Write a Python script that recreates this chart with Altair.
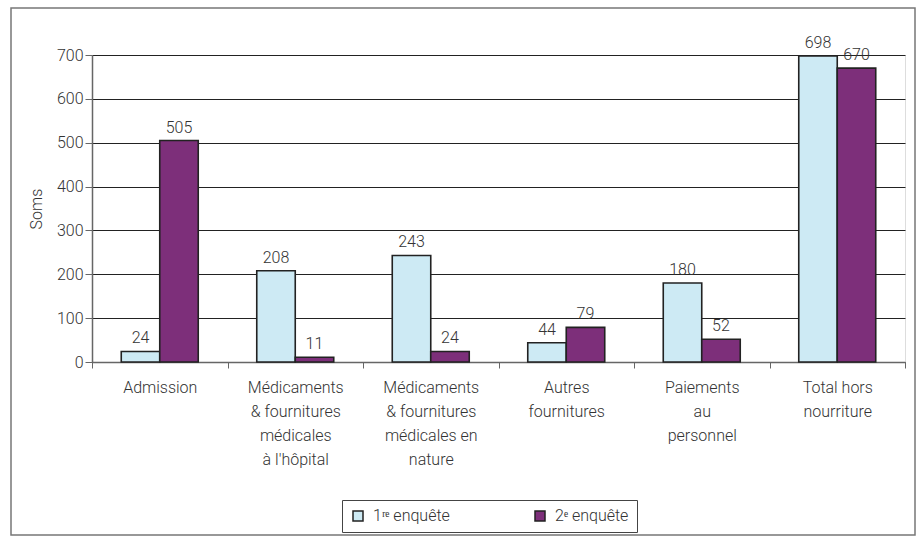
import altair as alt
import pandas as pd

categories = [
    "Admission",
    "Médicaments|& fournitures|médicales|à l'hôpital",
    "Médicaments|& fournitures|médicales en|nature",
    "Autres|fournitures",
    "Paiements|au|personnel",
    "Total hors|nourriture",
]
series = ["1ʳᵉ enquête", "2ᵉ enquête"]
survey1 = [24, 208, 243, 44, 180, 698]
survey2 = [505, 11, 24, 79, 52, 670]
y_ticks = [0, 100, 200, 300, 400, 500, 600, 700]

rows = []
for c, a, b in zip(categories, survey1, survey2):
    rows.append({"categorie": c, "serie": series[0], "valeur": a})
    rows.append({"categorie": c, "serie": series[1], "valeur": b})
df = pd.DataFrame(rows)

FONT = "Roboto"
FW = 300
TXT = "#333333"

x_enc = alt.X(
    "categorie:N",
    sort=categories,
    scale=alt.Scale(paddingInner=0, paddingOuter=0),
    axis=alt.Axis(
        title=None,
        labelAngle=0,
        labelExpr="split(datum.label, '|')",
        tickBand="extent",
        labelFontSize=16,
        labelFontWeight=FW,
        labelLineHeight=24,
        labelPadding=11,
        labelColor=TXT,
        labelFont=FONT,
        domainColor="#666666",
        tickColor="#666666",
        tickSize=6,
        domainWidth=1.5,
        labelLimit=200,
    ),
)
xo_enc = alt.XOffset(
    "serie:N", sort=series, scale=alt.Scale(paddingInner=0, paddingOuter=0.76)
)
y_enc = alt.Y(
    "valeur:Q",
    scale=alt.Scale(domain=[0, 700], nice=False),
    axis=alt.Axis(
        title="Soms",
        values=y_ticks,
        grid=True,
        gridColor="#222222",
        gridWidth=1,
        domainColor="#666666",
        domainWidth=1.5,
        tickColor="#666666",
        tickSize=7,
        labelFontSize=16,
        labelFontWeight=FW,
        labelColor=TXT,
        labelFont=FONT,
        labelPadding=2,
        titleFont=FONT,
        titleFontSize=16,
        titleFontWeight=FW,
        titleColor=TXT,
        titlePadding=12,
    ),
)

base = alt.Chart(df).encode(x=x_enc, xOffset=xo_enc)

bars = base.mark_bar(stroke="#222222", strokeWidth=1.6).encode(
    y=y_enc,
    color=alt.Color(
        "serie:N",
        sort=series,
        scale=alt.Scale(domain=series, range=["#CDEAF4", "#7D2F7A"]),
        legend=alt.Legend(
            title=None,
            orient="none",
            legendX=250,
            legendY=445,
            direction="horizontal",
            strokeColor="#444444",
            padding=8,
            symbolType="square",
            symbolSize=100,
            symbolStrokeColor="#222222",
            symbolStrokeWidth=1.5,
            labelFontSize=16,
            labelFontWeight=FW,
            labelFont=FONT,
            labelColor=TXT,
            labelOffset=7,
            columnPadding=82,
        ),
    ),
)

labels = base.mark_text(
    baseline="bottom", dy=-5, fontSize=16, font=FONT, fontWeight=FW, color=TXT
).encode(y="valeur:Q", text="valeur:Q")

frame = alt.Chart(pd.DataFrame({"a": [0]})).mark_rect(
    fill=None, stroke="#777777", strokeWidth=1.5
).encode(
    x=alt.value(-81), x2=alt.value(823), y=alt.value(-47), y2=alt.value(480)
)

chart = (
    alt.layer(frame, bars, labels)
    .properties(
        width=813,
        height=307,
        autosize=alt.AutoSizeParams(type="none"),
        padding={"left": 92, "top": 55, "right": 16, "bottom": 182},
    )
    .configure_view(stroke="#333333", strokeWidth=1.2)
    .configure(background="white")
)

chart.save("out.html", embed_options={"renderer": "svg", "actions": False})
